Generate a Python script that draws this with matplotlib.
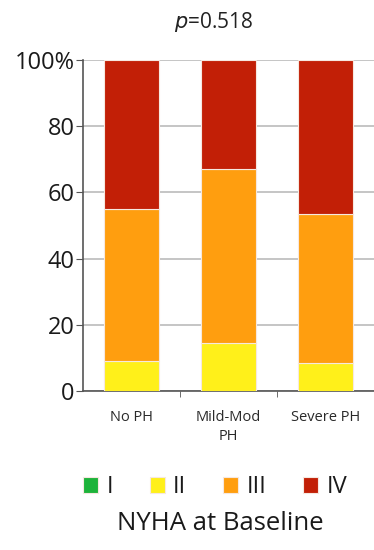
import matplotlib
matplotlib.use("Agg")
import matplotlib.pyplot as plt
import numpy as np

categories = ["No PH", "Mild-Mod\nPH", "Severe PH"]
classes = ["I", "II", "III", "IV"]
class_I = [0, 0, 0]
class_II = [9, 14.5, 8.5]
class_III = [46, 52.5, 45]
class_IV = [45, 33, 46.5]
colors = ["#1db33a", "#fff01a", "#ff9e0f", "#c21f06"]
yticks = [0, 20, 40, 60, 80, 100]
ytick_labels = ["0", "20", "40", "60", "80", "100%"]

plt.rcParams['font.family'] = ['Open Sans', 'DejaVu Sans']
fig = plt.figure(figsize=(3.74, 5.5), dpi=100)
ax = fig.add_axes([83/374, 1-391/550, 1-83/374, 331/550])

x = np.arange(len(categories))
series = [class_I, class_II, class_III, class_IV]
bottom = np.zeros(len(categories))
handles = []
for vals, c, lab in zip(series, colors, classes):
    vals = np.array(vals, dtype=float)
    h = ax.bar(x, vals, width=0.56, bottom=bottom, color=c, edgecolor="#f6e8e0",
               linewidth=0.8, label=lab, zorder=3)
    handles.append(h)
    bottom += vals

ax.set_xlim(-0.5, 2.5)
ax.set_ylim(0, 100)
ax.set_yticks(yticks)
ax.set_yticklabels(ytick_labels, fontsize=17, color="#1a1a1a", fontweight="medium")
ax.set_xticks(x)
ax.set_xticklabels(categories, fontsize=10.5, color="#2a2a2a", linespacing=1.3)
ax.tick_params(axis='x', length=0, pad=14)
ax.set_xticks([0.5, 1.5], minor=True)
ax.tick_params(axis='x', which='minor', length=4, color="#555555", direction='out')
ax.tick_params(axis='y', length=5, color="#555555", direction='out', pad=1)
ax.yaxis.grid(True, color="#bbbbbb", linewidth=1.2, zorder=0)
for s in ["top", "right"]:
    ax.spines[s].set_visible(False)
ax.spines["left"].set_color("#555555")
ax.spines["left"].set_linewidth(1.2)
ax.spines["bottom"].set_color("#555555")
ax.spines["bottom"].set_linewidth(1.2)

fig.text(0.57, 1-22/550, r"$\it{p}$=0.518", ha="center", va="center", fontsize=15, color="#222222")

leg = fig.legend(handles=handles, labels=classes, loc="center", ncol=4,
                 bbox_to_anchor=(0.575, 1-487/550), frameon=False, fontsize=17,
                 handlelength=0.65, handleheight=0.65, handletextpad=0.35, columnspacing=1.55)
for t in leg.get_texts():
    t.set_color("#1a1a1a")

fig.text(0.59, 1-523/550, "NYHA at Baseline", ha="center", va="center", fontsize=18.5, color="#1a1a1a")

fig.savefig("out.png", dpi=100)
